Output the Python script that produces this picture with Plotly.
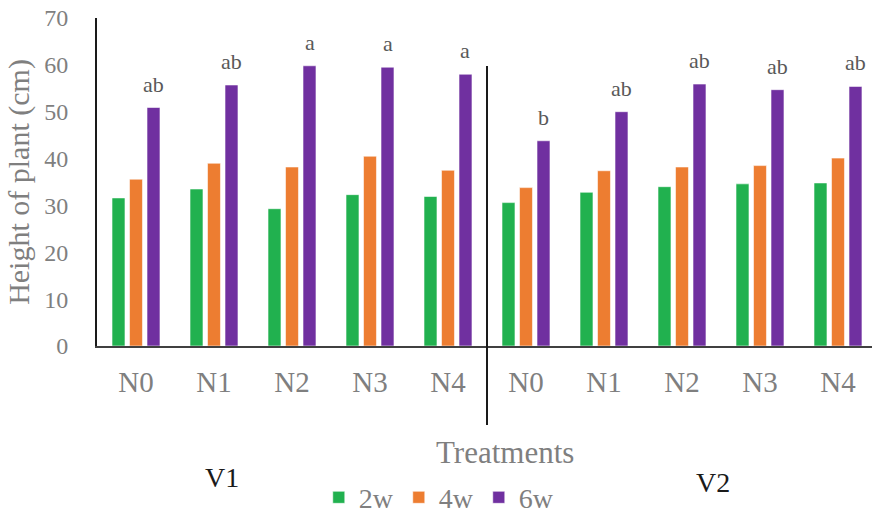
import plotly.graph_objects as go

# ---- data ----
treatments = ["N0", "N1", "N2", "N3", "N4", "N0", "N1", "N2", "N3", "N4"]
varieties = ["V1", "V2"]
week_2 = [31.6, 33.5, 29.3, 32.3, 31.9, 30.6, 32.8, 34.0, 34.6, 34.8]
week_4 = [35.6, 39.0, 38.2, 40.5, 37.5, 33.8, 37.4, 38.2, 38.5, 40.1]
week_6 = [50.9, 55.7, 59.8, 59.5, 58.0, 43.8, 50.0, 55.9, 54.7, 55.4]
letters = ["ab", "ab", "a", "a", "a", "b", "ab", "ab", "ab", "ab"]
series_names = ["2w", "4w", "6w"]
series_colors = ["#21b14f", "#ed7d31", "#7030a0"]

FONT = "Liberation Serif"
GRAY = "#7f7f7f"
BARGAP = 0.327
BARGROUPGAP = 0.26

x = list(range(len(treatments)))
fig = go.Figure()
for name, vals, col in zip(series_names, [week_2, week_4, week_6], series_colors):
    fig.add_trace(go.Bar(
        x=x, y=vals, name=name,
        marker=dict(color=col, line=dict(color="rgba(255,255,255,0.55)", width=1)),
    ))

# significance letters above 6w bars
slot = (1 - BARGAP) / 3
for i, (v, t) in enumerate(zip(week_6, letters)):
    fig.add_annotation(x=i + slot, y=v, text=t, showarrow=False,
                       xref="x", yref="y", yanchor="bottom", yshift=9,
                       font=dict(family=FONT, size=22, color="#595959"))

# divider between varieties
fig.add_shape(type="line", xref="x", yref="paper", x0=4.5, x1=4.5,
              y0=-0.241, y1=0.854, line=dict(color="#1a1a1a", width=2))

# variety labels
fig.add_annotation(x=0.161, y=-0.40, xref="paper", yref="paper", text=varieties[0],
                   xanchor="center", yanchor="middle",
                   showarrow=False, font=dict(family=FONT, size=28, color="#1a1a1a"))
fig.add_annotation(x=0.795, y=-0.415, xref="paper", yref="paper", text=varieties[1],
                   xanchor="center", yanchor="middle",
                   showarrow=False, font=dict(family=FONT, size=28, color="#1a1a1a"))
# x title
fig.add_annotation(x=0.526, y=-0.326, xref="paper", yref="paper", text="Treatments",
                   xanchor="center", yanchor="middle",
                   showarrow=False, font=dict(family=FONT, size=31, color=GRAY))

fig.update_layout(
    width=872, height=513,
    margin=dict(l=97, r=0, t=18, b=167, autoexpand=False),
    paper_bgcolor="white", plot_bgcolor="white",
    barmode="group", bargap=BARGAP, bargroupgap=BARGROUPGAP,
    font=dict(family=FONT, color=GRAY),
    legend=dict(orientation="h", x=0.441, xanchor="center", y=0.030, yanchor="middle",
                yref="container",
                font=dict(family=FONT, size=28, color=GRAY), traceorder="normal"),
    showlegend=True,
)
fig.update_xaxes(
    range=[-0.5, 9.436], tickmode="array", tickvals=x, ticktext=treatments,
    showgrid=False, zeroline=False, showline=True, linecolor="#404040", linewidth=1.5,
    ticks="", ticklabelstandoff=9,
    tickfont=dict(family=FONT, size=29, color=GRAY),
)
fig.update_yaxes(
    range=[0, 70], dtick=10, showgrid=False, zeroline=False,
    showline=True, linecolor="#1a1a1a", linewidth=2, ticks="",
    ticklabelstandoff=22,
    tickfont=dict(family=FONT, size=24, color=GRAY),
    title=dict(text="Height of plant (cm)", standoff=6,
               font=dict(family=FONT, size=30, color=GRAY)),
    automargin=False,
)
fig.update_xaxes(automargin=False)

fig.write_html("out.html")
